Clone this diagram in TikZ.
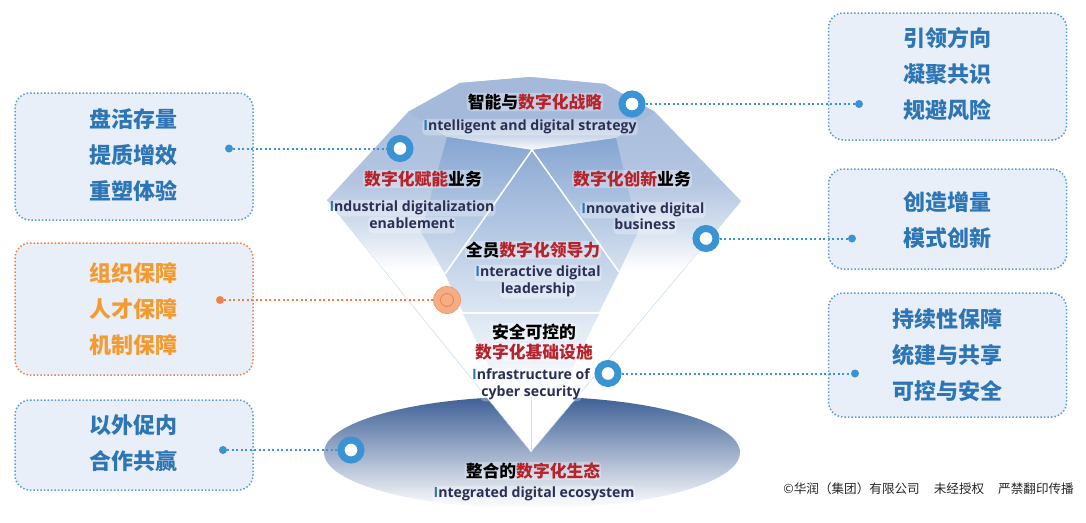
\documentclass[tikz,border=0pt]{standalone}
\usepackage{fontspec}
\setmainfont{Noto Sans CJK SC}
\newfontfamily\latinfont{Open Sans}
\definecolor{ringblue}{HTML}{3A93D2}
\definecolor{dotblue}{HTML}{5B9BD5}
\definecolor{dotorange}{HTML}{F08143}
\definecolor{boxfill}{HTML}{E8EFF8}
\definecolor{textblue}{HTML}{2E75B6}
\definecolor{textorange}{HTML}{F59A2F}
\definecolor{textred}{HTML}{B8232B}
\definecolor{textnavy}{HTML}{2B2F55}
\definecolor{edgeblue}{HTML}{BCD4EA}
\definecolor{discblue}{HTML}{3D5F96}
\definecolor{tablecol}{HTML}{A5BADB}
\definecolor{facettop}{HTML}{85A5D2}
\definecolor{facetlow}{HTML}{D8E2F0}
\definecolor{midtop}{HTML}{8EAAD4}
\definecolor{midlow}{HTML}{DCE6F3}
\pgfdeclareverticalshading{wingfade}{100bp}{color(0bp)=(white); color(25bp)=(white); color(35bp)=(facetlow);
  color(48bp)=(tablecol!85!white); color(75bp)=(tablecol); color(100bp)=(tablecol)}
\pgfdeclareverticalshading{tablefade}{100bp}{color(0bp)=(white); color(25bp)=(white!96!tablecol); color(35bp)=(tablecol!60!white);
  color(46bp)=(tablecol); color(75bp)=(tablecol); color(100bp)=(tablecol)}
\pgfdeclareverticalshading{tipfade}{100bp}{color(0bp)=(white); color(44bp)=(white); color(75bp)=(midlow); color(100bp)=(midlow)}
\tikzset{every picture/.style = {x=1pt, y=-1pt}}
\tikzset{infobox/.style = {draw=dotblue, fill=boxfill, rounded corners=15, line width=1.5, dash pattern=on 1.5pt off 2pt,
  minimum width=238, inner sep=0}}
\tikzset{orangebox/.style = {infobox, draw=dotorange}}
\tikzset{boxtext/.style = {align=center, font=\bfseries\fontsize{22}{36}\selectfont, text=textblue, inner sep=0}}
\tikzset{ring/.style = {shape=circle, draw=ringblue, fill=white, line width=7, minimum size=20, inner sep=0}}
\tikzset{enddot/.style = {shape=circle, fill=ringblue, minimum size=8, inner sep=0}}
\tikzset{leader/.style = {ringblue, line width=2, dash pattern=on 2pt off 2.5pt}}
\tikzset{glow/.style = {fill=white, fill opacity=0.3, text opacity=1, rounded corners=4, inner sep=1}}
\tikzset{cjklabel/.style = {glow, font=\bfseries\fontsize{16.8}{20}\selectfont}}
\tikzset{enlabel/.style = {glow, align=center, text=textnavy, text height=11, text depth=3.5,
  font=\latinfont\bfseries\fontsize{14.1}{17}\selectfont}}
\newcommand{\hred}[1]{\textcolor{textred}{#1}}
\newcommand{\hinit}{\textcolor{textblue}{I}}
\begin{document}
\begin{tikzpicture}
  \useasboundingbox (0, 0) rectangle (1086, 522);
  % ecosystem disc and diamond body
  \path[top color=discblue, bottom color=white] (532, 452.5) ellipse [x radius=208, y radius=56];
  \fill[white] (327, 200) -- (531, 452) -- (741, 201) -- cycle;
  \draw[edgeblue] (327, 200) -- (531, 452) -- (741, 201);
  \path[shading=wingfade] (327, 200) -- (408, 112) -- (460, 83) -- (530, 77)
    -- (605, 84) -- (655, 112) -- (741, 201) -- (683, 270) -- (384, 270) -- cycle;
  \path[shading=tablefade] (408, 112) -- (460, 83) -- (530, 77) -- (605, 84)
    -- (655, 112) -- (616, 138) -- (532, 150) -- (447, 137) -- cycle;
  \path[top color=facettop, bottom color=facetlow] (447, 137) -- (532, 150) -- (445, 274) -- (421, 232) -- cycle;
  \path[top color=facettop, bottom color=facetlow] (616, 138) -- (532, 150) -- (619, 272) -- (638, 232) -- cycle;
  \path[top color=midtop, bottom color=midlow] (532, 150) -- (445, 274) -- (463, 312) -- (599, 312) -- (619, 272) -- cycle;
  \path[shading=tipfade] (463, 314) -- (599, 314) -- (531, 452) -- cycle;
  \draw[white, line width=1.5] (445, 274) -- (532, 150) -- (619, 272);
  \draw[white, line width=1.5] (463, 313) -- (599, 313);
  \draw[black!15, thin] (531, 397) -- (531, 450);
  % boxes
  \node[infobox, minimum height=127] (stock) at (134, 156.5) {};
  \node[orangebox, minimum height=132] (guard) at (134, 309) {};
  \node[infobox, minimum height=90] (open) at (134, 445) {};
  \node[infobox, minimum height=127] (lead) at (947.5, 76.5) {};
  \node[infobox, minimum height=100] (grow) at (947.5, 219) {};
  \node[infobox, minimum height=124] (keep) at (947.5, 355) {};
  \node[boxtext] (stocktext) at (133, 155) {盘活存量\\提质增效\\重塑体验};
  \node[boxtext, text=textorange] (guardtext) at (133, 309.5) {组织保障\\人才保障\\机制保障};
  \node[boxtext] (opentext) at (133, 443.5) {以外促内\\合作共赢};
  \node[boxtext] (leadtext) at (947, 74.5) {引领方向\\凝聚共识\\规避风险};
  \node[boxtext] (growtext) at (947, 220) {创造增量\\模式创新};
  \node[boxtext] (keeptext) at (947, 355) {持续性保障\\统建与共享\\可控与安全};
  % markers on the diamond
  \node[ring] (strategy) at (632, 104) {};
  \node[ring] (enable) at (400, 148.5) {};
  \node[ring] (innovate) at (706, 238.5) {};
  \node[ring] (cyber) at (608, 373.5) {};
  \node[ring] (eco) at (351, 450) {};
  \node[shape=circle, draw=dotorange!80, fill=dotorange!65, line width=0.8, minimum size=27, inner sep=0] (people) at (447, 300) {};
  \node[shape=circle, draw=dotorange, line width=0.8, minimum size=13, inner sep=0] (peoplein) at (people) {};
  % leaders
  \node[enddot] (stockend) at (229, 148.5) {};
  \node[enddot, fill=dotorange] (guardend) at (220, 300) {};
  \node[enddot] (openend) at (223, 450) {};
  \node[enddot] (leadend) at (859, 104) {};
  \node[enddot] (growend) at (852, 238.5) {};
  \node[enddot] (keepend) at (855, 373.5) {};
  \draw[leader] (stockend) -- (enable);
  \draw[leader, dotorange] (guardend) -- (people);
  \draw[leader] (openend) -- (eco);
  \draw[leader] (strategy) -- (leadend);
  \draw[leader] (innovate) -- (growend);
  \draw[leader] (cyber) -- (keepend);
  % diamond labels
  \node[cjklabel] (t1) at (535, 102) {智能与\hred{数字化战略}};
  \node[enlabel] (e1) at (530, 127) {\hinit{}ntelligent and digital strategy};
  \node[cjklabel] (t2) at (423, 179) {\hred{数字化赋能}业务};
  \node[enlabel] (e2) at (412, 208) {\hinit{}ndustrial digitalization};
  \node[enlabel] (e2b) at (412, 225) {enablement};
  \node[cjklabel] (t3) at (632, 179) {\hred{数字化创新}业务};
  \node[enlabel] (e3) at (643, 210) {\hinit{}nnovative digital};
  \node[enlabel] (e3b) at (645, 226) {business};
  \node[cjklabel] (t4) at (533, 250) {全员\hred{数字化领导力}};
  \node[enlabel] (e4) at (538, 273) {\hinit{}nteractive digital};
  \node[enlabel] (e4b) at (538, 290) {leadership};
  \node[cjklabel] (t5) at (534, 332) {安全可控的};
  \node[cjklabel] (t5b) at (534, 352) {\hred{数字化基础设施}};
  \node[enlabel] (e5) at (531, 376) {\hinit{}nfrastructure of};
  \node[enlabel] (e5b) at (531, 393) {cyber security};
  \node[cjklabel] (t6) at (533, 471) {整合的\hred{数字化生态}};
  \node[enlabel] (e6) at (534, 494) {\hinit{}ntegrated digital ecosystem};
  \node[inner sep=0, font=\fontsize{12.6}{15}\selectfont, anchor=east, text=black!85] (note) at (1074, 489) {©华润（集团）有限公司\hspace{14pt}未经授权\hspace{14pt}严禁翻印传播};
\end{tikzpicture}
\end{document}
